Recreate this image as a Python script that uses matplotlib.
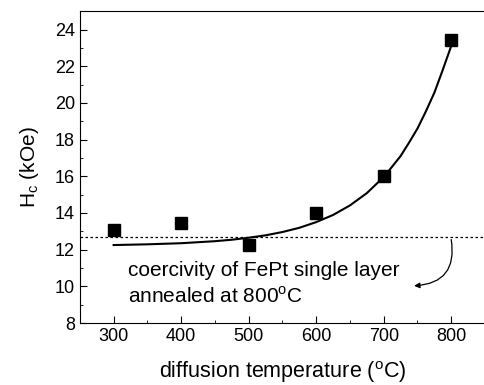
import numpy as np
import matplotlib.pyplot as plt

plt.rcParams['font.family'] = ['Liberation Sans', 'DejaVu Sans']

# measured points
temp = [300, 400, 500, 600, 700, 800]
hc = [13.05, 13.45, 12.25, 14.0, 16.0, 23.45]

# fitted curve
fit_t = [300, 350, 400, 450, 475, 500, 525, 550, 575, 600, 625, 650, 675, 700,
         712, 725, 737, 750, 762, 775, 787, 800]
fit_hc = [12.25, 12.29, 12.35, 12.46, 12.54, 12.65, 12.78, 12.96, 13.19, 13.5, 13.89, 14.41,
          15.08, 15.96, 16.5, 17.1, 17.8, 18.6, 19.5, 20.55, 21.75, 23.1]

single_layer = 12.7

fig = plt.figure(figsize=(4.84, 3.85), dpi=100)
ax = fig.add_axes([0.165, 0.161, 0.837, 0.81])

ax.plot(fit_t, fit_hc, color='black', lw=1.5)
ax.plot(temp, hc, 's', color='black', ms=8.5)
ax.axhline(single_layer, color='black', lw=0.9, linestyle=(0, (2, 2)))

ax.text(321, 10.85, 'coercivity of FePt single layer', fontsize=15, va='center')
ax.text(321, 9.43, 'annealed at 800$^{\\mathregular{o}}$C', fontsize=15, va='center')
ax.annotate('', xy=(745, 10.03), xytext=(800, 12.55),
            arrowprops=dict(arrowstyle='-|>', color='black', lw=0.9,
                            mutation_scale=8, shrinkA=0, shrinkB=0,
                            connectionstyle='arc3,rad=-0.55'))

ax.set_xlim(250, 850)
ax.set_ylim(8, 25)
ax.set_xticks([300, 400, 500, 600, 700, 800])
ax.set_xticks(np.arange(250, 851, 50), minor=True)
ax.set_yticks(np.arange(8, 25, 2))
ax.set_yticks(np.arange(8, 25, 1), minor=True)
ax.tick_params(direction='in', which='both', labelsize=13)
ax.tick_params(which='major', length=5)
ax.tick_params(which='minor', length=2.5)

ax.set_xlabel('diffusion temperature ($^{\\mathregular{o}}$C)', fontsize=15.5, labelpad=10)
ax.set_ylabel('H$_{\\mathregular{c}}$ (kOe)', fontsize=15, labelpad=10)

fig.savefig('out.png', dpi=100)
